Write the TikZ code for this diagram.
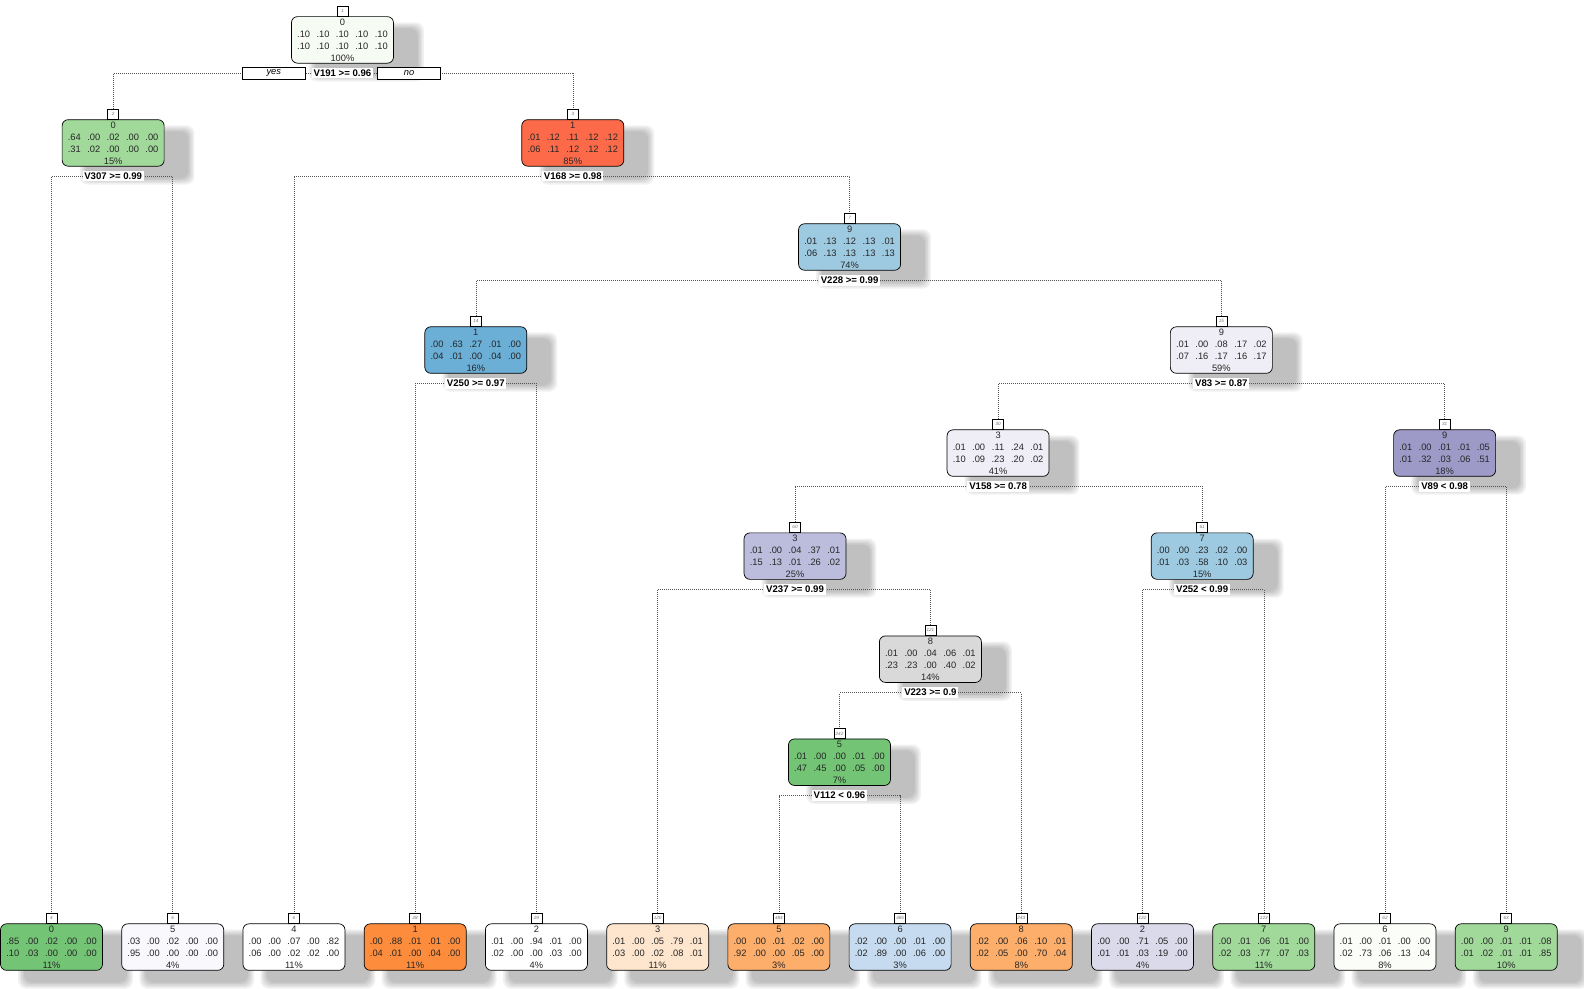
\documentclass[tikz,border=0pt]{standalone}
\usepackage{fontspec}
\setmainfont{Liberation Sans}
\usetikzlibrary{calc}
\pgfdeclarelayer{shadowlayer}
\pgfdeclarelayer{linelayer}
\pgfsetlayers{shadowlayer,linelayer,main}
\definecolor{cRoot}{HTML}{F6FBF3}
\definecolor{cGreenL}{HTML}{A1D99B}
\definecolor{cGreenD}{HTML}{74C476}
\definecolor{cRed}{HTML}{FC6A4A}
\definecolor{cBlueL}{HTML}{9ECAE1}
\definecolor{cBlue}{HTML}{6BAED6}
\definecolor{cBlueVL}{HTML}{C6DBEF}
\definecolor{cLav}{HTML}{EFEDF5}
\definecolor{cPurp}{HTML}{9E9AC8}
\definecolor{cLav2}{HTML}{BCBDDC}
\definecolor{cLav3}{HTML}{DADAEB}
\definecolor{cGray}{HTML}{D9D9D9}
\definecolor{cOrange}{HTML}{FD8D3C}
\definecolor{cOrangeL}{HTML}{FDAE6B}
\definecolor{cPeach}{HTML}{FEE6CE}
\definecolor{cWhiteB}{HTML}{F8F8FD}
\definecolor{cWhiteG}{HTML}{FAFDF8}
\definecolor{cLine}{HTML}{555555}
\def\prow#1 #2 #3 #4 #5;{\makebox[19.4pt]{#1}\makebox[19.4pt]{#2}\makebox[19.4pt]{#3}\makebox[19.4pt]{#4}\makebox[19.4pt]{#5}}
\tikzset{
  tbox/.style={draw=black, line width=0.7pt, rounded corners=6pt, minimum width=102pt,
    minimum height=46.5pt, inner sep=0pt, align=center, text=black!85,
    font=\fontsize{9.3}{12}\selectfont},
  numbox/.style={draw=black, fill=white, line width=0.5pt, minimum width=11pt,
    minimum height=9.5pt, inner sep=0.8pt, text=black!55,
    font=\itshape\fontsize{4.6}{5}\selectfont},
  splitlbl/.style={fill=white, inner sep=1.8pt, text=black,
    font=\bfseries\fontsize{9.6}{11}\selectfont},
  ynbox/.style={draw=black, fill=white, line width=0.6pt, minimum width=63pt,
    minimum height=12pt, inner sep=0pt, font=\itshape\fontsize{9.3}{10}\selectfont},
  conn/.style={draw=cLine, line width=0.5pt, dash pattern=on 0.8pt off 1.2pt}
}
\newcommand\tn[6]{%
  \node[tbox, fill=#4] (#1) at (#2,#3+23.5) {#5};
  \node[numbox] (k#1) at (#2,#3-5) {#6};
}
\newcommand\splitat[4]{\node[splitlbl] (s#1) at (#2,#3+56.5) {#4};}
\begin{document}
\begin{tikzpicture}[x=1.0102pt, y=-1.0102pt]
\useasboundingbox (0,0) rectangle (1568,979);
% internal nodes
\tn{n1}{339}{16}{cRoot}{0\\\prow .10 .10 .10 .10 .10;\\\prow .10 .10 .10 .10 .10;\\100\%}{1}
\tn{n2}{112}{118}{cGreenL}{0\\\prow .64 .00 .02 .00 .00;\\\prow .31 .02 .00 .00 .00;\\15\%}{2}
\tn{n3}{567}{118}{cRed}{1\\\prow .01 .12 .11 .12 .12;\\\prow .06 .11 .12 .12 .12;\\85\%}{3}
\tn{n7}{841}{221}{cBlueL}{9\\\prow .01 .13 .12 .13 .01;\\\prow .06 .13 .13 .13 .13;\\74\%}{7}
\tn{n14}{471}{323}{cBlue}{1\\\prow .00 .63 .27 .01 .00;\\\prow .04 .01 .00 .04 .00;\\16\%}{14}
\tn{n15}{1209}{323}{cLav}{9\\\prow .01 .00 .08 .17 .02;\\\prow .07 .16 .17 .16 .17;\\59\%}{15}
\tn{n30}{988}{425}{cLav}{3\\\prow .01 .00 .11 .24 .01;\\\prow .10 .09 .23 .20 .02;\\41\%}{30}
\tn{n31}{1430}{425}{cPurp}{9\\\prow .01 .00 .01 .01 .05;\\\prow .01 .32 .03 .06 .51;\\18\%}{31}
\tn{n60}{787}{527}{cLav2}{3\\\prow .01 .00 .04 .37 .01;\\\prow .15 .13 .01 .26 .02;\\25\%}{60}
\tn{n61}{1190}{527}{cBlueL}{7\\\prow .00 .00 .23 .02 .00;\\\prow .01 .03 .58 .10 .03;\\15\%}{61}
\tn{n121}{921}{629}{cGray}{8\\\prow .01 .00 .04 .06 .01;\\\prow .23 .23 .00 .40 .02;\\14\%}{121}
\tn{n242}{831}{731}{cGreenD}{5\\\prow .01 .00 .00 .01 .00;\\\prow .47 .45 .00 .05 .00;\\7\%}{242}
% leaves
\tn{n4}{51}{914}{cGreenD}{0\\\prow .85 .00 .02 .00 .00;\\\prow .10 .03 .00 .00 .00;\\11\%}{4}
\tn{n5}{171}{914}{cWhiteB}{5\\\prow .03 .00 .02 .00 .00;\\\prow .95 .00 .00 .00 .00;\\4\%}{5}
\tn{n6}{291}{914}{white}{4\\\prow .00 .00 .07 .00 .82;\\\prow .06 .00 .02 .02 .00;\\11\%}{6}
\tn{n28}{411}{914}{cOrange}{1\\\prow .00 .88 .01 .01 .00;\\\prow .04 .01 .00 .04 .00;\\11\%}{28}
\tn{n29}{531}{914}{white}{2\\\prow .01 .00 .94 .01 .00;\\\prow .02 .00 .00 .03 .00;\\4\%}{29}
\tn{n120}{651}{914}{cPeach}{3\\\prow .01 .00 .05 .79 .01;\\\prow .03 .00 .02 .08 .01;\\11\%}{120}
\tn{n484}{771}{914}{cOrangeL}{5\\\prow .00 .00 .01 .02 .00;\\\prow .92 .00 .00 .05 .00;\\3\%}{484}
\tn{n485}{891}{914}{cBlueVL}{6\\\prow .02 .00 .00 .01 .00;\\\prow .02 .89 .00 .06 .00;\\3\%}{485}
\tn{n243}{1011}{914}{cOrangeL}{8\\\prow .02 .00 .06 .10 .01;\\\prow .02 .05 .00 .70 .04;\\8\%}{243}
\tn{n122}{1131}{914}{cLav3}{2\\\prow .00 .00 .71 .05 .00;\\\prow .01 .01 .03 .19 .00;\\4\%}{122}
\tn{n123}{1251}{914}{cGreenL}{7\\\prow .00 .01 .06 .01 .00;\\\prow .02 .03 .77 .07 .03;\\11\%}{123}
\tn{n62}{1371}{914}{cWhiteG}{6\\\prow .01 .00 .01 .00 .00;\\\prow .02 .73 .06 .13 .04;\\8\%}{62}
\tn{n63}{1491}{914}{cGreenL}{9\\\prow .00 .00 .01 .01 .08;\\\prow .01 .02 .01 .01 .85;\\10\%}{63}
% split labels
\splitat{n1}{339}{16}{V191 >= 0.96}
\splitat{n2}{112}{118}{V307 >= 0.99}
\splitat{n3}{567}{118}{V168 >= 0.98}
\splitat{n7}{841}{221}{V228 >= 0.99}
\splitat{n14}{471}{323}{V250 >= 0.97}
\splitat{n15}{1209}{323}{V83 >= 0.87}
\splitat{n30}{988}{425}{V158 >= 0.78}
\splitat{n31}{1430}{425}{V89 < 0.98}
\splitat{n60}{787}{527}{V237 >= 0.99}
\splitat{n61}{1190}{527}{V252 < 0.99}
\splitat{n121}{921}{629}{V223 >= 0.9}
\splitat{n242}{831}{731}{V112 < 0.96}
\node[ynbox] (yes) at (271,72.5) {yes};
\node[ynbox] (no) at (405,72.5) {no};
% connectors
\begin{pgfonlayer}{linelayer}
\foreach \p/\c in {n1/n2,n1/n3,n2/n4,n2/n5,n3/n6,n3/n7,n7/n14,n7/n15,n14/n28,n14/n29,
  n15/n30,n15/n31,n30/n60,n30/n61,n31/n62,n31/n63,n60/n120,n60/n121,n61/n122,n61/n123,
  n121/n242,n121/n243,n242/n484,n242/n485}
  \draw[conn] (s\p.center) -| (k\c.north);
\end{pgfonlayer}
% shadows
\begin{pgfonlayer}{shadowlayer}
\foreach \n in {n1,n2,n3,n7,n14,n15,n30,n31,n60,n61,n121,n242,n4,n5,n6,n28,n29,n120,n484,n485,n243,n122,n123,n62,n63}
  \foreach \e in {0,1.5,3,4.5,6}
    \fill[black, opacity=0.055, rounded corners=8pt]
      ($(\n.south west)+(24pt-\e pt,-12pt-\e pt)$) rectangle ($(\n.north east)+(24pt+\e pt,-12pt+\e pt)$);
\end{pgfonlayer}
\end{tikzpicture}
\end{document}
